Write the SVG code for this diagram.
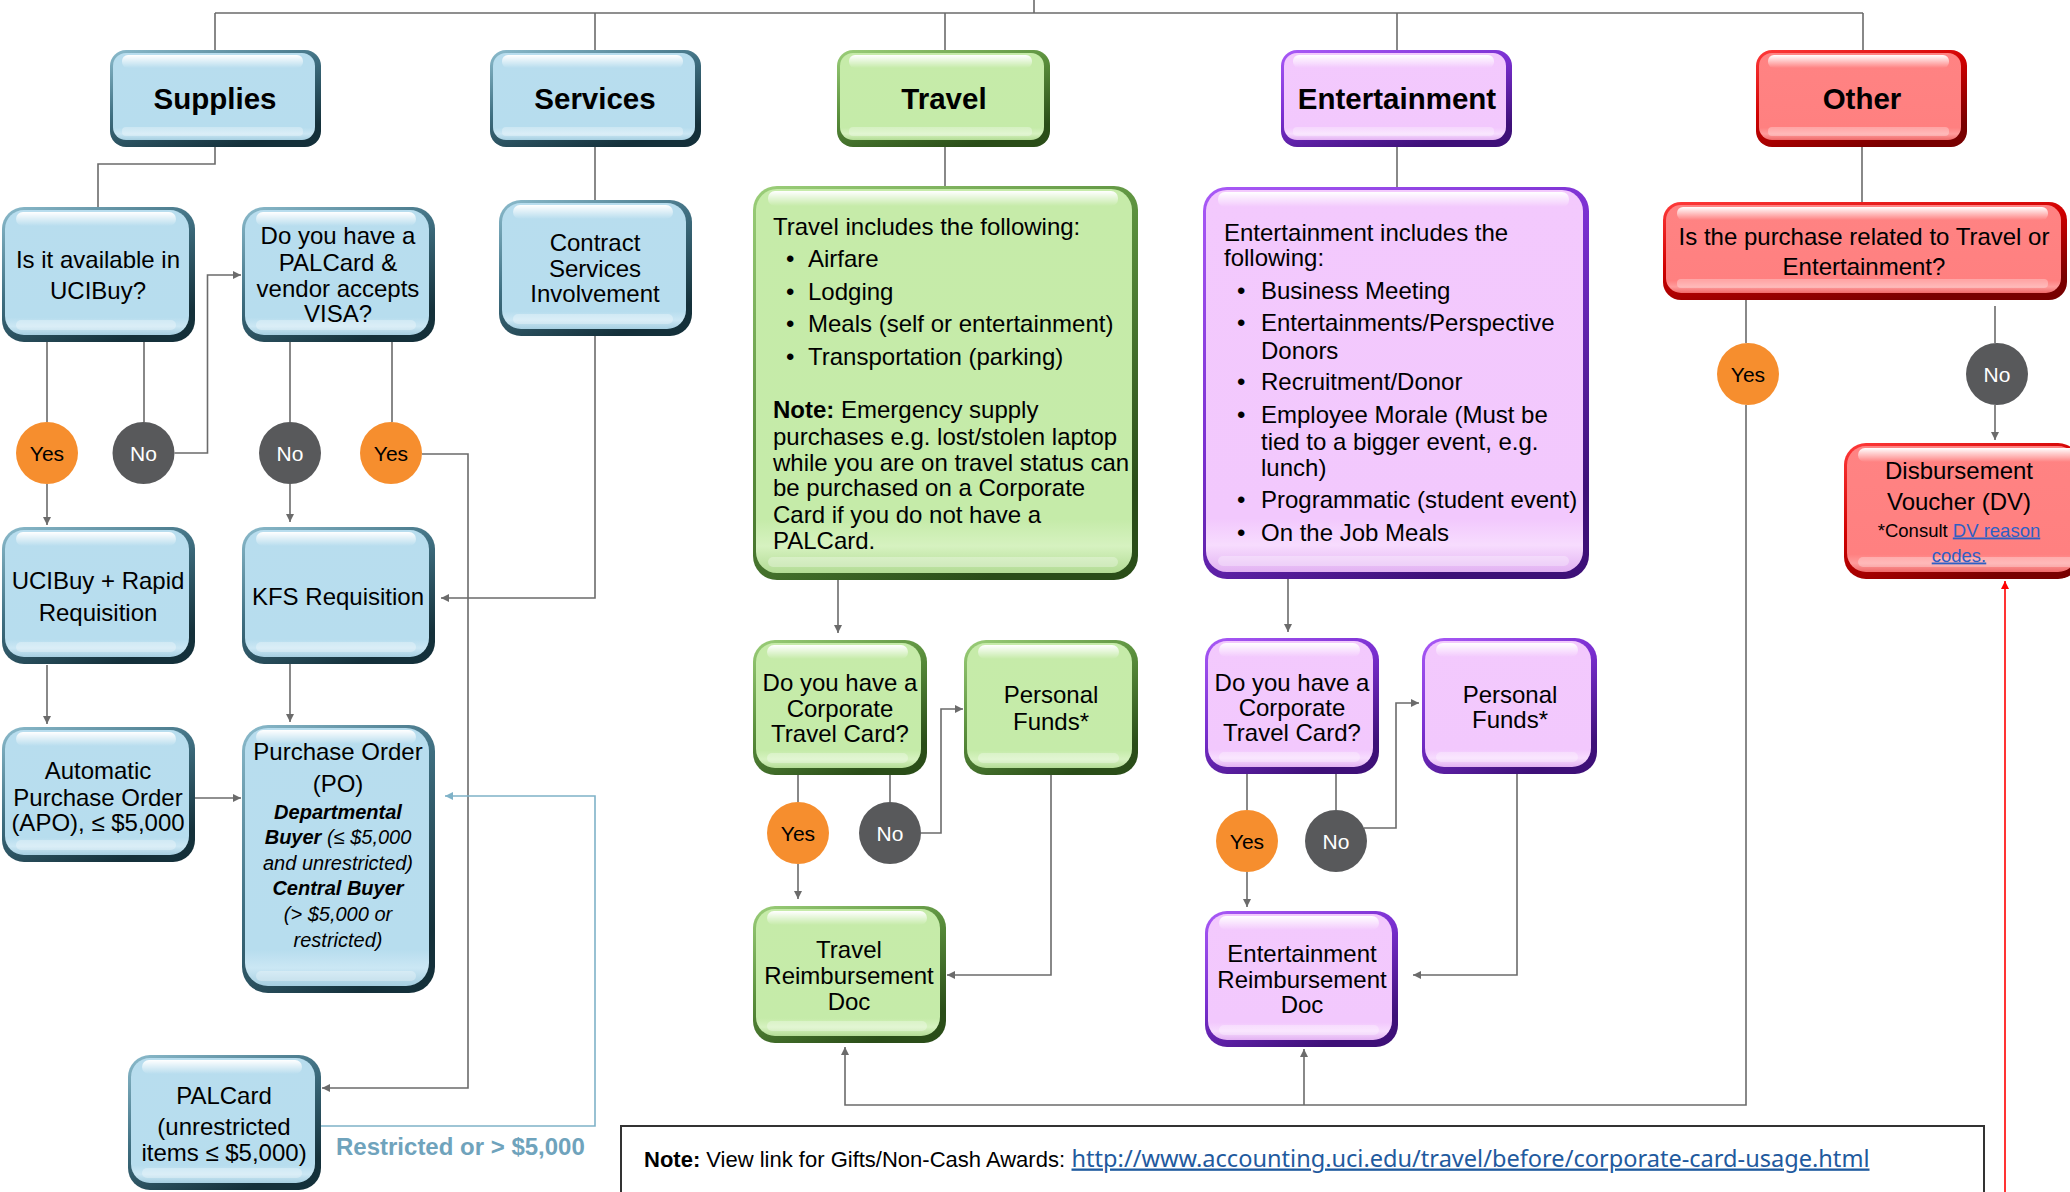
<svg xmlns="http://www.w3.org/2000/svg" width="2070" height="1192" viewBox="0 0 2070 1192">
<defs>
<style>
.t{font-family:"Liberation Sans",Arial,sans-serif;font-size:24px;fill:#000;text-anchor:middle}
.h{font-weight:bold;font-size:29.5px}
.l{text-anchor:start}
.yn{font-size:21px}
.w{fill:#fff}
.i{font-style:italic;font-size:20px}
.b{font-weight:bold}
.c{fill:none;stroke:#6b6b6b;stroke-width:1.6}
.cb{fill:none;stroke:#7fb2c8;stroke-width:1.6}
.cr{fill:none;stroke:#ff0000;stroke-width:1.6}
.a{marker-end:url(#ag)}
.blue .edge{fill:url(#eBlue)}
.blue .face{fill:url(#fBlue)}
.green .edge{fill:url(#eGreen)}
.green .face{fill:url(#fGreen)}
.purple .edge{fill:url(#ePurple)}
.purple .face{fill:url(#fPurple)}
.red .edge{fill:url(#eRed)}
.red .face{fill:url(#fRed)}
.hl{fill:url(#hl)}
.lo{fill:#fff;opacity:.3}
.yes{fill:#f68e2e}
.no{fill:#58595b}
.lnk{fill:#2f5fc4;text-decoration:underline}
</style>
<linearGradient id="hl" x1="0" y1="0" x2="0" y2="1"><stop offset="0" stop-color="#fff" stop-opacity="1"/><stop offset="1" stop-color="#fff" stop-opacity="0"/></linearGradient>
<linearGradient id="eBlue" x1="0" y1="0" x2="0.6" y2="1"><stop offset="0" stop-color="#8cbccd"/><stop offset="0.5" stop-color="#3f6f81"/><stop offset="1" stop-color="#14303a"/></linearGradient>
<linearGradient id="fBlue" x1="0" y1="0" x2="0" y2="1"><stop offset="0" stop-color="#b8ddee"/><stop offset="0.86" stop-color="#b7ddee"/><stop offset="0.93" stop-color="#cbe7f4"/><stop offset="1" stop-color="#a6cfe1"/></linearGradient>
<linearGradient id="eGreen" x1="0" y1="0" x2="0.6" y2="1"><stop offset="0" stop-color="#9ccf7a"/><stop offset="0.5" stop-color="#5a8f3c"/><stop offset="1" stop-color="#2a4d18"/></linearGradient>
<linearGradient id="fGreen" x1="0" y1="0" x2="0" y2="1"><stop offset="0" stop-color="#c6eba9"/><stop offset="0.86" stop-color="#c5eba9"/><stop offset="0.93" stop-color="#d6f2c0"/><stop offset="1" stop-color="#b3dc95"/></linearGradient>
<linearGradient id="ePurple" x1="0" y1="0" x2="0.6" y2="1"><stop offset="0" stop-color="#a95af7"/><stop offset="0.5" stop-color="#7a2fd0"/><stop offset="1" stop-color="#3e1078"/></linearGradient>
<linearGradient id="fPurple" x1="0" y1="0" x2="0" y2="1"><stop offset="0" stop-color="#f3c9fd"/><stop offset="0.86" stop-color="#f2c8fd"/><stop offset="0.93" stop-color="#f7dcfe"/><stop offset="1" stop-color="#e2b2f2"/></linearGradient>
<linearGradient id="eRed" x1="0" y1="0" x2="0.6" y2="1"><stop offset="0" stop-color="#ff3a3a"/><stop offset="0.5" stop-color="#d00000"/><stop offset="1" stop-color="#780000"/></linearGradient>
<linearGradient id="fRed" x1="0" y1="0" x2="0" y2="1"><stop offset="0" stop-color="#ff8383"/><stop offset="0.86" stop-color="#ff8080"/><stop offset="0.93" stop-color="#ff9c9c"/><stop offset="1" stop-color="#ef6a6a"/></linearGradient>
<marker id="ag" viewBox="0 0 8 8" refX="8" refY="4" markerWidth="8" markerHeight="8" markerUnits="userSpaceOnUse" orient="auto"><path d="M0,0 L8,4 L0,8 z" fill="#6b6b6b"/></marker>
<marker id="ab" viewBox="0 0 8 8" refX="8" refY="4" markerWidth="8" markerHeight="8" markerUnits="userSpaceOnUse" orient="auto"><path d="M0,0 L8,4 L0,8 z" fill="#7fb2c8"/></marker>
<marker id="ar" viewBox="0 0 8 8" refX="8" refY="4" markerWidth="8" markerHeight="8" markerUnits="userSpaceOnUse" orient="auto"><path d="M0,0 L8,4 L0,8 z" fill="#ff0000"/></marker>
</defs>
<rect width="2070" height="1192" fill="#fff"/>

<g id="connectors">
<path class="c" d="M1034,0 V13 M215,13 H1863 M215,13 V50 M595,13 V50 M945,13 V50 M1397,13 V50 M1863,13 V50"/>
<path class="c" d="M215,147 V164 H98 V207"/>
<path class="c" d="M595,147 V200"/>
<path class="c" d="M47,342 V422 M144,342 V422 M290,342 V422 M392,342 V422"/>
<path class="c a" d="M174.5,453 H207.5 V275 H241"/>
<path class="c a" d="M47,484 V525"/>
<path class="c a" d="M290,484 V522"/>
<path class="c a" d="M422,454 H468 V1088 H322"/>
<path class="c a" d="M595,336 V598 H441"/>
<path class="c a" d="M47,665 V724"/>
<path class="c a" d="M290,664 V722"/>
<path class="c a" d="M195,798 H241"/>
<path class="cb" marker-end="url(#ab)" d="M321,1126 H595 V796 H445"/>
<path class="c" d="M945,147 V186"/>
<path class="c a" d="M838,580 V633"/>
<path class="c" d="M798,775 V802 M890,775 V802"/>
<path class="c a" d="M921,833 H941 V709 H963"/>
<path class="c a" d="M798,864 V899"/>
<path class="c a" d="M1051,775 V975 H947"/>
<path class="c" d="M1397,147 V187"/>
<path class="c a" d="M1288,579 V632"/>
<path class="c" d="M1247,774 V810 M1336,774 V810"/>
<path class="c a" d="M1364,828 H1396 V703 H1419"/>
<path class="c a" d="M1247,872 V907"/>
<path class="c a" d="M1517,774 V975 H1413"/>
<path class="c" d="M1862,147 V202"/>
<path class="c" d="M1746,300 V343"/>
<path class="c a" d="M1746,405 V1105 H845 V1047"/>
<path class="c a" d="M1304,1105 V1049"/>
<path class="c" d="M1995,306 V343"/>
<path class="c a" d="M1995,405 V440"/>
<path class="cr" marker-end="url(#ar)" d="M2005,1192 V581"/>
</g>

<g id="n-supplies" class="blue">
<rect class="edge" x="110" y="50" width="211" height="97" rx="16"/>
<rect class="face" x="113" y="53" width="202" height="87" rx="13"/>
<rect class="hl" x="122" y="55" width="181" height="13" rx="6"/>
<rect class="lo" x="122" y="127" width="181" height="9" rx="4"/>
<text class="t h" x="215" y="109">Supplies</text>
</g>
<g id="n-services" class="blue">
<rect class="edge" x="490" y="50" width="211" height="97" rx="16"/>
<rect class="face" x="493" y="53" width="202" height="87" rx="13"/>
<rect class="hl" x="502" y="55" width="181" height="13" rx="6"/>
<rect class="lo" x="502" y="127" width="181" height="9" rx="4"/>
<text class="t h" x="595" y="109">Services</text>
</g>
<g id="n-travel" class="green">
<rect class="edge" x="837" y="50" width="213" height="97" rx="16"/>
<rect class="face" x="840" y="53" width="204" height="87" rx="13"/>
<rect class="hl" x="849" y="55" width="183" height="13" rx="6"/>
<rect class="lo" x="849" y="127" width="183" height="9" rx="4"/>
<text class="t h" x="944" y="109">Travel</text>
</g>
<g id="n-entertainment" class="purple">
<rect class="edge" x="1281" y="50" width="231" height="97" rx="16"/>
<rect class="face" x="1284" y="53" width="222" height="87" rx="13"/>
<rect class="hl" x="1293" y="55" width="201" height="13" rx="6"/>
<rect class="lo" x="1293" y="127" width="201" height="9" rx="4"/>
<text class="t h" x="1397" y="109">Entertainment</text>
</g>
<g id="n-other" class="red">
<rect class="edge" x="1756" y="50" width="211" height="97" rx="16"/>
<rect class="face" x="1759" y="53" width="202" height="87" rx="13"/>
<rect class="hl" x="1768" y="55" width="181" height="13" rx="6"/>
<rect class="lo" x="1768" y="127" width="181" height="9" rx="4"/>
<text class="t h" x="1862" y="109">Other</text>
</g>

<g id="n-ucibuy-q" class="blue">
<rect class="edge" x="2" y="207" width="193" height="135" rx="22"/>
<rect class="face" x="5" y="210" width="184" height="125" rx="19"/>
<rect class="hl" x="16" y="212" width="160" height="14" rx="7"/>
<rect class="lo" x="16" y="320" width="160" height="10" rx="5"/>
<text class="t" x="98"><tspan x="98" y="267.5">Is it available in</tspan><tspan x="98" y="298.5">UCIBuy?</tspan></text>
</g>
<g id="n-palcard-q" class="blue">
<rect class="edge" x="242" y="207" width="193" height="135" rx="22"/>
<rect class="face" x="245" y="210" width="184" height="125" rx="19"/>
<rect class="hl" x="256" y="212" width="160" height="14" rx="7"/>
<rect class="lo" x="256" y="320" width="160" height="10" rx="5"/>
<text class="t" x="338"><tspan x="338" y="243.5">Do you have a</tspan><tspan x="338" y="270.5">PALCard &amp;</tspan><tspan x="338" y="296.5">vendor accepts</tspan><tspan x="338" y="321.5">VISA?</tspan></text>
</g>
<g id="n-contract" class="blue">
<rect class="edge" x="499" y="200" width="193" height="136" rx="22"/>
<rect class="face" x="502" y="203" width="184" height="126" rx="19"/>
<rect class="hl" x="513" y="205" width="160" height="14" rx="7"/>
<rect class="lo" x="513" y="314" width="160" height="10" rx="5"/>
<text class="t" x="595"><tspan x="595" y="250.5">Contract</tspan><tspan x="595" y="276.5">Services</tspan><tspan x="595" y="301.5">Involvement</tspan></text>
</g>

<g id="n-yes1"><circle class="yes" cx="47" cy="453" r="31"/><text class="t yn" x="47" y="460.5">Yes</text></g>
<g id="n-no1"><circle class="no" cx="143.5" cy="453" r="31"/><text class="t yn w" x="143.5" y="460.5">No</text></g>
<g id="n-no2"><circle class="no" cx="290" cy="453" r="31"/><text class="t yn w" x="290" y="460.5">No</text></g>
<g id="n-yes2"><circle class="yes" cx="391" cy="453" r="31"/><text class="t yn" x="391" y="460.5">Yes</text></g>

<g id="n-rapid" class="blue">
<rect class="edge" x="2" y="527" width="193" height="137" rx="22"/>
<rect class="face" x="5" y="530" width="184" height="127" rx="19"/>
<rect class="hl" x="16" y="532" width="160" height="14" rx="7"/>
<rect class="lo" x="16" y="642" width="160" height="10" rx="5"/>
<text class="t" x="98"><tspan x="98" y="588.5">UCIBuy + Rapid</tspan><tspan x="98" y="620.5">Requisition</tspan></text>
</g>
<g id="n-kfs" class="blue">
<rect class="edge" x="242" y="527" width="193" height="137" rx="22"/>
<rect class="face" x="245" y="530" width="184" height="127" rx="19"/>
<rect class="hl" x="256" y="532" width="160" height="14" rx="7"/>
<rect class="lo" x="256" y="642" width="160" height="10" rx="5"/>
<text class="t" x="338" y="604.5">KFS Requisition</text>
</g>
<g id="n-apo" class="blue">
<rect class="edge" x="2" y="727" width="193" height="135" rx="22"/>
<rect class="face" x="5" y="730" width="184" height="125" rx="19"/>
<rect class="hl" x="16" y="732" width="160" height="14" rx="7"/>
<rect class="lo" x="16" y="840" width="160" height="10" rx="5"/>
<text class="t" x="98"><tspan x="98" y="778.5">Automatic</tspan><tspan x="98" y="805.5">Purchase Order</tspan><tspan x="98" y="830.5">(APO), ≤ $5,000</tspan></text>
</g>
<g id="n-po" class="blue">
<rect class="edge" x="242" y="725" width="193" height="268" rx="26"/>
<rect class="face" x="245" y="728" width="184" height="258" rx="23"/>
<rect class="hl" x="256" y="730" width="160" height="14" rx="7"/>
<rect class="lo" x="256" y="971" width="160" height="10" rx="5"/>
<text class="t" x="338"><tspan x="338" y="759.5">Purchase Order</tspan><tspan x="338" y="791.5">(PO)</tspan></text>
<text class="t i" x="338"><tspan x="338" y="819" class="b">Departmental</tspan><tspan x="338" y="844"><tspan class="b">Buyer</tspan> (≤ $5,000</tspan><tspan x="338" y="870">and unrestricted)</tspan><tspan x="338" y="895" class="b">Central Buyer</tspan><tspan x="338" y="921">(&gt; $5,000 or</tspan><tspan x="338" y="947">restricted)</tspan></text>
</g>
<g id="n-palcard" class="blue">
<rect class="edge" x="128" y="1055" width="193" height="135" rx="22"/>
<rect class="face" x="131" y="1058" width="184" height="125" rx="19"/>
<rect class="hl" x="142" y="1060" width="160" height="14" rx="7"/>
<rect class="lo" x="142" y="1168" width="160" height="10" rx="5"/>
<text class="t" x="224"><tspan x="224" y="1103.5">PALCard</tspan><tspan x="224" y="1134.5">(unrestricted</tspan><tspan x="224" y="1160.5">items ≤ $5,000)</tspan></text>
</g>
<text class="t b l" x="336" y="1155" style="fill:#6fa3bc">Restricted or &gt; $5,000</text>

<g id="n-travel-info" class="green">
<rect class="edge" x="753" y="186" width="385" height="394" rx="24"/>
<rect class="face" x="756" y="189" width="376" height="384" rx="21"/>
<rect class="hl" x="768" y="191" width="350" height="15" rx="7"/>
<rect class="lo" x="768" y="557" width="350" height="10" rx="5"/>
<text class="t l" x="773" y="234.5">Travel includes the following:</text>
<text class="t l"><tspan x="786" y="266.5">•</tspan><tspan x="808" y="266.5">Airfare</tspan><tspan x="786" y="299.5">•</tspan><tspan x="808" y="299.5">Lodging</tspan><tspan x="786" y="331.5">•</tspan><tspan x="808" y="331.5">Meals (self or entertainment)</tspan><tspan x="786" y="364.5">•</tspan><tspan x="808" y="364.5">Transportation (parking)</tspan></text>
<text class="t l"><tspan x="773" y="417.5"><tspan class="b">Note:</tspan> Emergency supply</tspan><tspan x="773" y="444.5">purchases e.g. lost/stolen laptop</tspan><tspan x="773" y="470.5">while you are on travel status can</tspan><tspan x="773" y="495.5">be purchased on a Corporate</tspan><tspan x="773" y="522.5">Card if you do not have a</tspan><tspan x="773" y="548.5">PALCard.</tspan></text>
</g>
<g id="n-t-corp" class="green">
<rect class="edge" x="753" y="640" width="174" height="135" rx="22"/>
<rect class="face" x="756" y="643" width="165" height="125" rx="19"/>
<rect class="hl" x="767" y="645" width="141" height="14" rx="7"/>
<rect class="lo" x="767" y="753" width="141" height="10" rx="5"/>
<text class="t" x="840"><tspan x="840" y="690.5">Do you have a</tspan><tspan x="840" y="716.5">Corporate</tspan><tspan x="840" y="741.5">Travel Card?</tspan></text>
</g>
<g id="n-t-personal" class="green">
<rect class="edge" x="964" y="640" width="174" height="135" rx="22"/>
<rect class="face" x="967" y="643" width="165" height="125" rx="19"/>
<rect class="hl" x="978" y="645" width="141" height="14" rx="7"/>
<rect class="lo" x="978" y="753" width="141" height="10" rx="5"/>
<text class="t" x="1051"><tspan x="1051" y="702.5">Personal</tspan><tspan x="1051" y="729.5">Funds*</tspan></text>
</g>
<g id="n-t-yes"><circle class="yes" cx="798" cy="833" r="31"/><text class="t yn" x="798" y="840.5">Yes</text></g>
<g id="n-t-no"><circle class="no" cx="890" cy="833" r="31"/><text class="t yn w" x="890" y="840.5">No</text></g>
<g id="n-t-reimb" class="green">
<rect class="edge" x="753" y="906" width="193" height="137" rx="22"/>
<rect class="face" x="756" y="909" width="184" height="127" rx="19"/>
<rect class="hl" x="767" y="911" width="160" height="14" rx="7"/>
<rect class="lo" x="767" y="1021" width="160" height="10" rx="5"/>
<text class="t" x="849"><tspan x="849" y="957.5">Travel</tspan><tspan x="849" y="983.5">Reimbursement</tspan><tspan x="849" y="1009.5">Doc</tspan></text>
</g>

<g id="n-ent-info" class="purple">
<rect class="edge" x="1203" y="187" width="386" height="392" rx="24"/>
<rect class="face" x="1206" y="190" width="377" height="382" rx="21"/>
<rect class="hl" x="1218" y="192" width="351" height="15" rx="7"/>
<rect class="lo" x="1218" y="556" width="351" height="10" rx="5"/>
<text class="t l"><tspan x="1224" y="241">Entertainment includes the</tspan><tspan x="1224" y="266">following:</tspan></text>
<text class="t l"><tspan x="1237" y="298.5">•</tspan><tspan x="1261" y="298.5">Business Meeting</tspan><tspan x="1237" y="330.5">•</tspan><tspan x="1261" y="330.5">Entertainments/Perspective</tspan><tspan x="1261" y="358.5">Donors</tspan><tspan x="1237" y="389.5">•</tspan><tspan x="1261" y="389.5">Recruitment/Donor</tspan><tspan x="1237" y="423">•</tspan><tspan x="1261" y="423">Employee Morale (Must be</tspan><tspan x="1261" y="449.5">tied to a bigger event, e.g.</tspan><tspan x="1261" y="475.5">lunch)</tspan><tspan x="1237" y="507.5">•</tspan><tspan x="1261" y="507.5">Programmatic (student event)</tspan><tspan x="1237" y="541">•</tspan><tspan x="1261" y="541">On the Job Meals</tspan></text>
</g>
<g id="n-e-corp" class="purple">
<rect class="edge" x="1205" y="638" width="174" height="136" rx="22"/>
<rect class="face" x="1208" y="641" width="165" height="126" rx="19"/>
<rect class="hl" x="1219" y="643" width="141" height="14" rx="7"/>
<rect class="lo" x="1219" y="752" width="141" height="10" rx="5"/>
<text class="t" x="1292"><tspan x="1292" y="690.5">Do you have a</tspan><tspan x="1292" y="715.5">Corporate</tspan><tspan x="1292" y="740.5">Travel Card?</tspan></text>
</g>
<g id="n-e-personal" class="purple">
<rect class="edge" x="1422" y="638" width="175" height="136" rx="22"/>
<rect class="face" x="1425" y="641" width="166" height="126" rx="19"/>
<rect class="hl" x="1436" y="643" width="142" height="14" rx="7"/>
<rect class="lo" x="1436" y="752" width="142" height="10" rx="5"/>
<text class="t" x="1510"><tspan x="1510" y="702.5">Personal</tspan><tspan x="1510" y="727.5">Funds*</tspan></text>
</g>
<g id="n-e-yes"><circle class="yes" cx="1247" cy="841" r="31"/><text class="t yn" x="1247" y="848.5">Yes</text></g>
<g id="n-e-no"><circle class="no" cx="1336" cy="841" r="31"/><text class="t yn w" x="1336" y="848.5">No</text></g>
<g id="n-e-reimb" class="purple">
<rect class="edge" x="1205" y="911" width="193" height="136" rx="22"/>
<rect class="face" x="1208" y="914" width="184" height="126" rx="19"/>
<rect class="hl" x="1219" y="916" width="160" height="14" rx="7"/>
<rect class="lo" x="1219" y="1025" width="160" height="10" rx="5"/>
<text class="t" x="1302"><tspan x="1302" y="961.5">Entertainment</tspan><tspan x="1302" y="987.5">Reimbursement</tspan><tspan x="1302" y="1012.5">Doc</tspan></text>
</g>

<g id="n-other-q" class="red">
<rect class="edge" x="1663" y="202" width="404" height="98" rx="18"/>
<rect class="face" x="1666" y="205" width="395" height="88" rx="15"/>
<rect class="hl" x="1677" y="207" width="371" height="13" rx="6"/>
<rect class="lo" x="1677" y="279" width="371" height="9" rx="4"/>
<text class="t" x="1864"><tspan x="1864" y="244.5">Is the purchase related to Travel or</tspan><tspan x="1864" y="274.5">Entertainment?</tspan></text>
</g>
<g id="n-o-yes"><circle class="yes" cx="1748" cy="374" r="31"/><text class="t yn" x="1748" y="381.5">Yes</text></g>
<g id="n-o-no"><circle class="no" cx="1997" cy="374" r="31"/><text class="t yn w" x="1997" y="381.5">No</text></g>
<g id="n-dv" class="red">
<rect class="edge" x="1844" y="443" width="236" height="136" rx="22"/>
<rect class="face" x="1847" y="446" width="230" height="126" rx="19"/>
<rect class="hl" x="1858" y="448" width="220" height="14" rx="7"/>
<rect class="lo" x="1858" y="557" width="220" height="10" rx="5"/>
<text class="t" x="1959"><tspan x="1959" y="478.5">Disbursement</tspan><tspan x="1959" y="509.5">Voucher (DV)</tspan></text>
<text class="t" style="font-size:18.5px" x="1959"><tspan x="1959" y="536.5">*Consult <tspan class="lnk">DV reason</tspan></tspan><tspan x="1959" y="561.5" class="lnk">codes.</tspan></text>
</g>

<g id="n-note">
<rect x="621" y="1126" width="1363" height="100" fill="#fff" stroke="#333" stroke-width="2"/>
<text class="t l" style="font-size:22px" x="644" y="1166.5"><tspan class="b">Note:</tspan> View link for Gifts/Non-Cash Awards: </text>
<text class="l" x="1071.5" y="1166.5" textLength="798" lengthAdjust="spacingAndGlyphs" style="font-family:'Noto Sans','Liberation Sans',sans-serif;font-size:23px;fill:#1f5a9e;text-decoration:underline">http://www.accounting.uci.edu/travel/before/corporate-card-usage.html</text>
</g>
</svg>
